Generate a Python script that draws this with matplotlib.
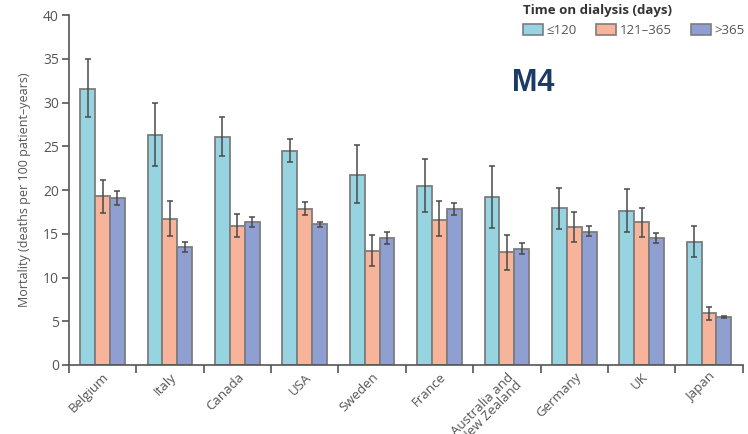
import numpy as np
import matplotlib.pyplot as plt
from matplotlib.patches import Patch

plt.rcParams['font.family'] = ['Open Sans', 'DejaVu Sans']

countries = ['Belgium', 'Italy', 'Canada', 'USA', 'Sweden', 'France',
             'Australia and\nNew Zealand', 'Germany', 'UK', 'Japan']
groups = ['\u2264120', '121\u2013365', '>365']

# mortality and 95% CI per group
v_short = [31.6, 26.3, 26.1, 24.5, 21.7, 20.5, 19.2, 17.9, 17.6, 14.1]
lo_short = [28.4, 22.8, 23.9, 23.2, 18.5, 17.5, 15.7, 15.5, 15.2, 12.4]
hi_short = [35.0, 30.0, 28.4, 25.8, 25.1, 23.6, 22.7, 20.2, 20.1, 15.9]

v_mid = [19.3, 16.7, 15.9, 17.8, 13.0, 16.6, 12.9, 15.8, 16.3, 5.9]
lo_mid = [17.4, 14.7, 14.6, 17.1, 11.3, 14.7, 10.9, 14.1, 14.6, 5.2]
hi_mid = [21.2, 18.7, 17.3, 18.6, 14.9, 18.7, 14.9, 17.5, 17.9, 6.6]

v_long = [19.1, 13.5, 16.3, 16.1, 14.5, 17.8, 13.3, 15.2, 14.5, 5.5]
lo_long = [18.3, 12.9, 15.8, 15.8, 13.8, 17.1, 12.7, 14.7, 13.9, 5.4]
hi_long = [19.9, 14.1, 16.9, 16.3, 15.2, 18.5, 14.0, 15.9, 15.1, 5.6]

colors = ['#95d4e0', '#f8b49b', '#909fd1']
edge = '#7d7d7d'
txt = '#555555'

fig = plt.figure(figsize=(7.48, 4.34), dpi=100)
ax = fig.add_axes([0.092, 0.159, 0.901, 0.806])

x = np.arange(len(countries))
w = 0.22
series = [(v_short, lo_short, hi_short), (v_mid, lo_mid, hi_mid), (v_long, lo_long, hi_long)]
for i, (v, lo, hi) in enumerate(series):
    v = np.array(v)
    err = [v - np.array(lo), np.array(hi) - v]
    ax.bar(x + (i - 1) * w, v, w, color=colors[i], edgecolor=edge, linewidth=1.3,
           yerr=err, error_kw=dict(ecolor='#4a4a4a', elinewidth=1.1, capsize=2.5, capthick=1.1),
           zorder=2)

ax.set_xlim(-0.5, len(countries) - 0.5)
ax.set_ylim(0, 40)
ax.set_yticks(np.arange(0, 41, 5))
ax.set_xticks(np.arange(-0.5, len(countries)), minor=False)
ax.set_xticklabels([])
ax.set_xticks(x, minor=True)
ax.set_xticklabels(countries, minor=True, rotation=45, ha='right', rotation_mode='anchor',
                   fontsize=9.5, color=txt, linespacing=0.9)
ax.tick_params(axis='x', which='minor', length=0, pad=4)
ax.tick_params(axis='x', which='major', length=6, width=1.2, color='#555555')
ax.tick_params(axis='y', length=5, width=1.2, color='#555555', labelsize=10, labelcolor=txt, pad=2)

for s in ['top', 'right']:
    ax.spines[s].set_visible(False)
for s in ['left', 'bottom']:
    ax.spines[s].set_color('#555555')
    ax.spines[s].set_linewidth(1.2)

ax.set_ylabel('Mortality (deaths per 100 patient\u2013years)', fontsize=9, color=txt, labelpad=9)

handles = [Patch(facecolor=c, edgecolor=edge, linewidth=1.2) for c in colors]
leg = fig.legend(handles, groups, ncol=3, loc='upper left', bbox_to_anchor=(0.699, 0.99),
                 frameon=False, fontsize=9.5, handlelength=1.5, handleheight=0.85,
                 handletextpad=0.3, columnspacing=1.45, borderpad=0, borderaxespad=0,
                 title='Time on dialysis (days)', title_fontproperties={'weight': 'bold', 'size': 9.5})
for t in leg.get_texts():
    t.set_color(txt)
leg.get_title().set_color('#333333')
leg._legend_box.align = 'left'

fig.text(0.684, 0.79, 'M4', fontsize=22, fontweight='bold', color='#1b3a66', family='Liberation Sans')

fig.savefig('out.png', dpi=100)
